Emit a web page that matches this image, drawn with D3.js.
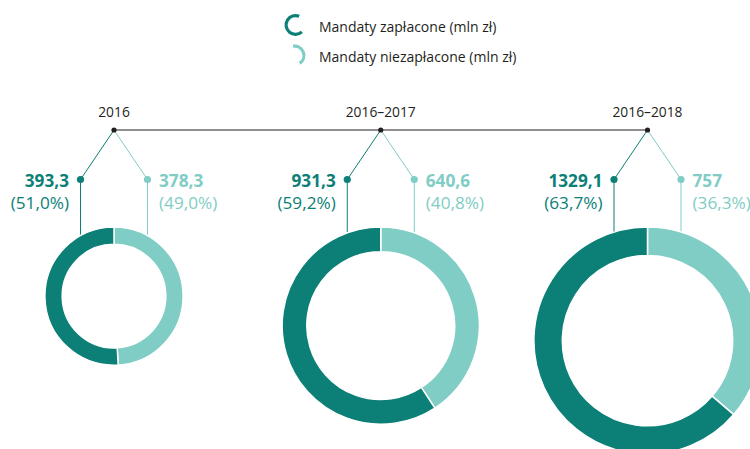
<!DOCTYPE html>
<html><head><meta charset="utf-8">
<script src="https://cdn.jsdelivr.net/npm/d3@7"></script>
<style>body{margin:0;background:#fff}svg{display:block}text{font-family:"Open Sans",sans-serif}</style>
</head><body><svg id="c" width="750" height="449"></svg>
<script>
const periods = ["2016", "2016–2017", "2016–2018"];
const paid = [393.3, 931.3, 1329.1];
const unpaid = [378.3, 640.6, 757];
const paidLabels = ["393,3", "931,3", "1329,1"];
const unpaidLabels = ["378,3", "640,6", "757"];
const paidPct = ["(51,0%)", "(59,2%)", "(63,7%)"];
const unpaidPct = ["(49,0%)", "(40,8%)", "(36,3%)"];
const seriesNames = ["Mandaty zapłacone (mln zł)", "Mandaty niezapłacone (mln zł)"];

const DARK = "#0c7f77", LIGHT = "#7fcdc5", INK = "#231f20";
const svg = d3.select("#c");

const x = d3.scalePoint().domain(periods).range([114, 647.5]);
const totals = periods.map((p, i) => paid[i] + unpaid[i]);
const r = d3.scaleSqrt().domain([0, d3.max(totals)]).range([0, 113.6]);
const timelineY = 130, dotY = 179.5, donutTop = 227, branchDx = 33.5;

// legend
const lg = svg.append("g");
const legArc = d3.arc().innerRadius(7.8).outerRadius(11);
lg.append("path").attr("transform", "translate(295.5,25)")
  .attr("d", legArc({startAngle: 2.4, endAngle: 2 * Math.PI + 0.4})).attr("fill", DARK);
lg.append("path").attr("transform", "translate(294.5,55.5)")
  .attr("d", legArc({startAngle: -0.15, endAngle: 2.55})).attr("fill", LIGHT);
lg.append("text").attr("x", 319).attr("y", 31.5).attr("font-size", 14).attr("fill", INK).text(seriesNames[0]);
lg.append("text").attr("x", 319).attr("y", 61.5).attr("font-size", 14).attr("fill", INK).text(seriesNames[1]);

// timeline
svg.append("line").attr("x1", x(periods[0])).attr("x2", x(periods[periods.length - 1]))
  .attr("y1", timelineY).attr("y2", timelineY).attr("stroke", INK).attr("stroke-width", 1);

const pie = d3.pie().sort(null).value(d => d.v);

periods.forEach((p, i) => {
  const cx = x(p), R = r(totals[i]), ri = R * 0.75, cy = donutTop + R;
  const g = svg.append("g");
  g.append("text").attr("x", cx).attr("y", 117).attr("text-anchor", "middle")
    .attr("font-size", 13.8).attr("fill", INK).text(p);

  const lx = cx - branchDx, rx = cx + branchDx;
  const edge = dx => cy - Math.sqrt(R * R - dx * dx);
  g.append("path").attr("d", `M${cx},${timelineY}L${lx},${dotY}L${lx},${edge(branchDx)}`)
    .attr("fill", "none").attr("stroke", DARK).attr("stroke-width", 1);
  g.append("path").attr("d", `M${cx},${timelineY}L${rx},${dotY}L${rx},${edge(branchDx)}`)
    .attr("fill", "none").attr("stroke", LIGHT).attr("stroke-width", 1);
  g.append("circle").attr("cx", lx).attr("cy", dotY).attr("r", 3.6).attr("fill", DARK);
  g.append("circle").attr("cx", rx).attr("cy", dotY).attr("r", 3.6).attr("fill", LIGHT);
  g.append("circle").attr("cx", cx).attr("cy", timelineY).attr("r", 2.6).attr("fill", INK);

  g.append("text").attr("x", lx - 11.5).attr("y", 186.5).attr("text-anchor", "end")
    .attr("font-size", 17.2).attr("font-weight", 700).attr("fill", DARK).text(paidLabels[i]);
  g.append("text").attr("x", lx - 11.5).attr("y", 208.5).attr("text-anchor", "end")
    .attr("font-size", 17.2).attr("fill", DARK).text(paidPct[i]);
  g.append("text").attr("x", rx + 11.5).attr("y", 186.5)
    .attr("font-size", 17.2).attr("font-weight", 700).attr("fill", LIGHT).text(unpaidLabels[i]);
  g.append("text").attr("x", rx + 11.5).attr("y", 208.5)
    .attr("font-size", 17.2).attr("fill", LIGHT).text(unpaidPct[i]);

  const arcs = pie([{v: unpaid[i], c: LIGHT}, {v: paid[i], c: DARK}]);
  const arc = d3.arc().innerRadius(ri).outerRadius(R);
  g.append("g").attr("transform", `translate(${cx},${cy})`).selectAll("path").data(arcs).join("path")
    .attr("d", arc).attr("fill", d => d.data.c).attr("stroke", "#fff").attr("stroke-width", 1.5);
});
</script></body></html>
